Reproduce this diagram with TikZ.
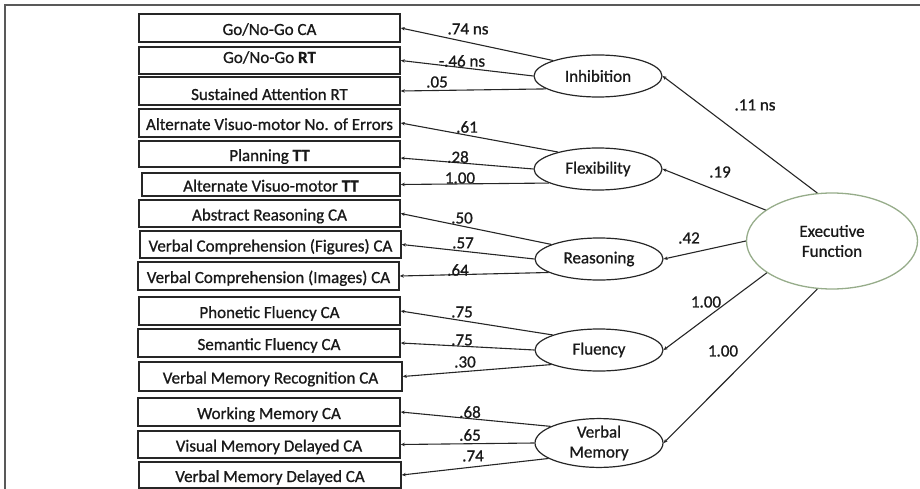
\documentclass[tikz,border=0pt]{standalone}
\usepackage{fontspec}
\setmainfont{Carlito}[FakeBold=0.9]
\usetikzlibrary{arrows.meta,shapes.geometric}
\begin{document}
\begin{tikzpicture}[x=1pt,y=-1pt,
  every node/.style={font=\fontsize{17}{20}\selectfont, text=black!90},
  obs/.style={draw=black!85, line width=1.6pt, rectangle, inner sep=0pt,
              text height=15pt, text depth=1pt},
  lat/.style={draw=black!85, line width=1.2pt, ellipse, inner sep=0pt,
              minimum width=128pt, minimum height=42pt, align=center},
  top/.style={draw={rgb,255:red,150;green,172;blue,138}, line width=1.3pt,
              ellipse, inner sep=0pt, minimum width=171pt, minimum height=96pt,
              align=center},
  load/.style={draw=black!85, line width=1.1pt, -{Stealth[length=4pt,width=3.5pt]}},
  coef/.style={inner sep=0pt},
]
\useasboundingbox (0,0) rectangle (920,489);
% frame
\draw[black!65, line width=2pt] (5,489) -- (5,5) -- (920,5);

% indicators
\node[obs, minimum width=261pt, minimum height=28pt] (b1) at (269.5,28) {Go/No-Go CA};
\node[obs, minimum width=261pt, minimum height=27pt, text height=10pt, text depth=5pt] (b2) at (269.5,60.5) {Go/No-Go \textbf{RT}};
\node[obs, minimum width=261pt, minimum height=28pt, text height=18pt, text depth=0pt] (b3) at (269.5,91) {Sustained Attention RT};
\node[obs, minimum width=261pt, minimum height=28pt] (b4) at (269.5,123) {Alternate Visuo-motor No. of Errors};
\node[obs, minimum width=261pt, minimum height=26pt] (b5) at (269.5,154) {Planning \textbf{TT}};
\node[obs, minimum width=258pt, minimum height=23pt] (b6) at (271,184.5) {Alternate Visuo-motor \textbf{TT}};
\node[obs, minimum width=261pt, minimum height=27pt] (b7) at (269.5,213.5) {Abstract Reasoning CA};
\node[obs, minimum width=261pt, minimum height=27pt] (b8) at (270.5,244.5) {Verbal Comprehension (Figures) CA};
\node[obs, minimum width=261pt, minimum height=28pt] (b9) at (268.5,276) {Verbal Comprehension (Images) CA};
\node[obs, minimum width=261pt, minimum height=28pt] (b10) at (269.5,311) {Phonetic Fluency CA};
\node[obs, minimum width=262pt, minimum height=28pt] (b11) at (269,343) {Semantic Fluency CA};
\node[obs, minimum width=263pt, minimum height=29pt] (b12) at (270.5,376.5) {Verbal Memory Recognition CA};
\node[obs, minimum width=262pt, minimum height=28pt] (b13) at (269,412) {Working Memory CA};
\node[obs, minimum width=262pt, minimum height=27pt] (b14) at (269,444.5) {Visual Memory Delayed CA};
\node[obs, minimum width=262pt, minimum height=26pt] (b15) at (270,475) {Verbal Memory Delayed CA};

% latent factors
\node[lat] (inh) at (598,76) {Inhibition};
\node[lat] (flex) at (598,169) {Flexibility};
\node[lat] (reas) at (599,259) {Reasoning};
\node[lat] (flu) at (599,350) {Fluency};
\node[lat] (vmem) at (599,443) {Verbal\\Memory};
\node[top] (ef) at (832,241) {Executive\\Function};

% second-order paths
\draw[load] (ef.107) -- (inh.east);
\draw[load] (ef.155) -- (flex.east);
\draw[load] (ef.west) -- (reas.east);
\draw[load] (ef.206) -- (flu.east);
\draw[load] (ef.253) -- (vmem.east);

% first-order loadings
\draw[load] (inh.161) -- (b1.east);
\draw[load] (inh.west) -- (b2.east);
\draw[load] (inh.194) -- (b3.east);
\draw[load] (flex.157) -- (b4.east);
\draw[load] (flex.west) -- ([yshift=-4pt]b5.east);
\draw[load] (flex.196) -- (b6.east);
\draw[load] (reas.163) -- (b7.east);
\draw[load] (reas.west) -- (b8.east);
\draw[load] (reas.195) -- (b9.east);
\draw[load] (flu.162) -- (b10.east);
\draw[load] (flu.west) -- (b11.east);
\draw[load] (flu.197) -- (b12.east);
\draw[load] (vmem.161) -- (b13.east);
\draw[load] (vmem.west) -- (b14.east);
\draw[load] (vmem.197) -- (b15.east);

% coefficients
\node[coef] (c1) at (468,29) {.74 ns};
\node[coef] (c2) at (462,61) {-.46 ns};
\node[coef] (c3) at (437,82) {.05};
\node[coef] (c4) at (755,105) {.11 ns};
\node[coef] (c5) at (467,127) {.61};
\node[coef] (c6) at (458,157) {.28};
\node[coef] (c7) at (460,178) {1.00};
\node[coef] (c8) at (720,172) {.19};
\node[coef] (c9) at (462,218) {.50};
\node[coef] (c10) at (463,243) {.57};
\node[coef] (c11) at (458,270) {.64};
\node[coef] (c12) at (689,238) {.42};
\node[coef] (c13) at (706,302) {1.00};
\node[coef] (c14) at (462,312) {.75};
\node[coef] (c15) at (462,340) {.75};
\node[coef] (c16) at (465,362) {.30};
\node[coef] (c17) at (723,351) {1.00};
\node[coef] (c18) at (470,412) {.68};
\node[coef] (c19) at (470,435) {.65};
\node[coef] (c20) at (473,456) {.74};
\end{tikzpicture}
\end{document}
